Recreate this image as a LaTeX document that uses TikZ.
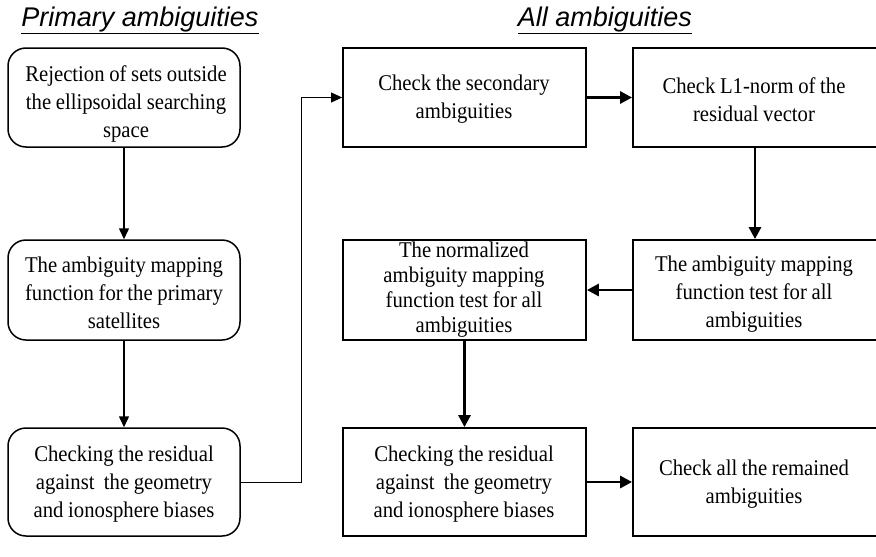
\documentclass[tikz,border=0pt]{standalone}
\usepackage{fontspec}
\setmainfont{Liberation Serif}[FakeStretch=0.92,WordSpace=0.9]
\newfontfamily\arialf{Liberation Sans}
\usetikzlibrary{arrows.meta}
\begin{document}
\begin{tikzpicture}[x=1pt,y=-1pt,
  txt/.style={align=center, font=\fontsize{22.5}{28}\selectfont, inner sep=0pt},
  rbox/.style={draw, line width=1.5pt, rounded corners=18pt, minimum width=232pt, inner sep=0pt},
  sbox/.style={draw, line width=1.8pt, inner sep=0pt},
  ttl/.style={font=\arialf\itshape\fontsize{27}{30}\selectfont, inner sep=0pt},
  thinarr/.style={line width=1.5pt, -{Triangle[length=11pt,width=10pt]}},
  thickarr/.style={line width=2.8pt, -{Triangle[length=12pt,width=12pt]}},
  linkarr/.style={line width=0.9pt, -{Triangle[length=11pt,width=10pt]}}
]
\useasboundingbox (0,0) rectangle (876,557);
% titles
\node[ttl, anchor=base] (t1) at (140,26) {\underline{Primary ambiguities}};
\node[ttl, anchor=base] (t2) at (605,26) {\underline{All ambiguities}};
% left column boxes
\node[rbox, minimum height=99pt] (b1) at (124,97.5) {};
\node[rbox, minimum height=100pt] (b2) at (124,290) {};
\node[rbox, minimum height=108pt] (b3) at (124,482) {};
% middle column boxes
\node[sbox, minimum width=243pt, minimum height=99pt] (m1) at (464.5,97.5) {};
\node[sbox, minimum width=243pt, minimum height=100pt] (m2) at (464.5,290) {};
\node[sbox, minimum width=243pt, minimum height=108pt] (m3) at (464.5,482) {};
% right column boxes
\node[sbox, minimum width=244pt, minimum height=99pt] (r1) at (755,97.5) {};
\node[sbox, minimum width=244pt, minimum height=100pt] (r2) at (755,290) {};
\node[sbox, minimum width=244pt, minimum height=108pt] (r3) at (755,482) {};
% texts
\node[txt] (b1t) at (126,104) {Rejection of sets outside\\the ellipsoidal searching\\space};
\node[txt] (b2t) at (124,293) {The ambiguity mapping\\function for the primary\\satellites};
\node[txt] (b3t) at (124,484) {Checking the residual\\against\ \ the geometry\\and ionosphere biases};
\node[txt] (m1t) at (464,99) {Check the secondary\\ambiguities};
\node[txt, font=\fontsize{22.5}{25}\selectfont] (m2t) at (464,290) {The normalized\\ambiguity mapping\\function test for all\\ambiguities};
\node[txt] (m3t) at (464,484) {Checking the residual\\against\ \ the geometry\\and ionosphere biases};
\node[txt] (r1t) at (754,100) {Check L1-norm of the\\residual vector};
\node[txt] (r2t) at (754,294) {The ambiguity mapping\\function test for all\\ambiguities};
\node[txt] (r3t) at (754,484) {Check all the remained\\ambiguities};
% connectors
\draw[thinarr] (b1) -- (b2);
\draw[thinarr] (b2) -- (b3);
\coordinate (c1) at (301,482);
\coordinate (c2) at (301,97.5);
\draw[linkarr] (b3.east) -- (c1) -- (c2) -- (m1.west);
\draw[thickarr] (m1) -- (r1);
\draw[thickarr] (r1.south -| 755,0) -- (r2.north -| 755,0);
\draw[thickarr] (r2) -- (m2);
\draw[thickarr] (m2) -- (m3);
\draw[thickarr] (m3) -- (r3);
\end{tikzpicture}
\end{document}
